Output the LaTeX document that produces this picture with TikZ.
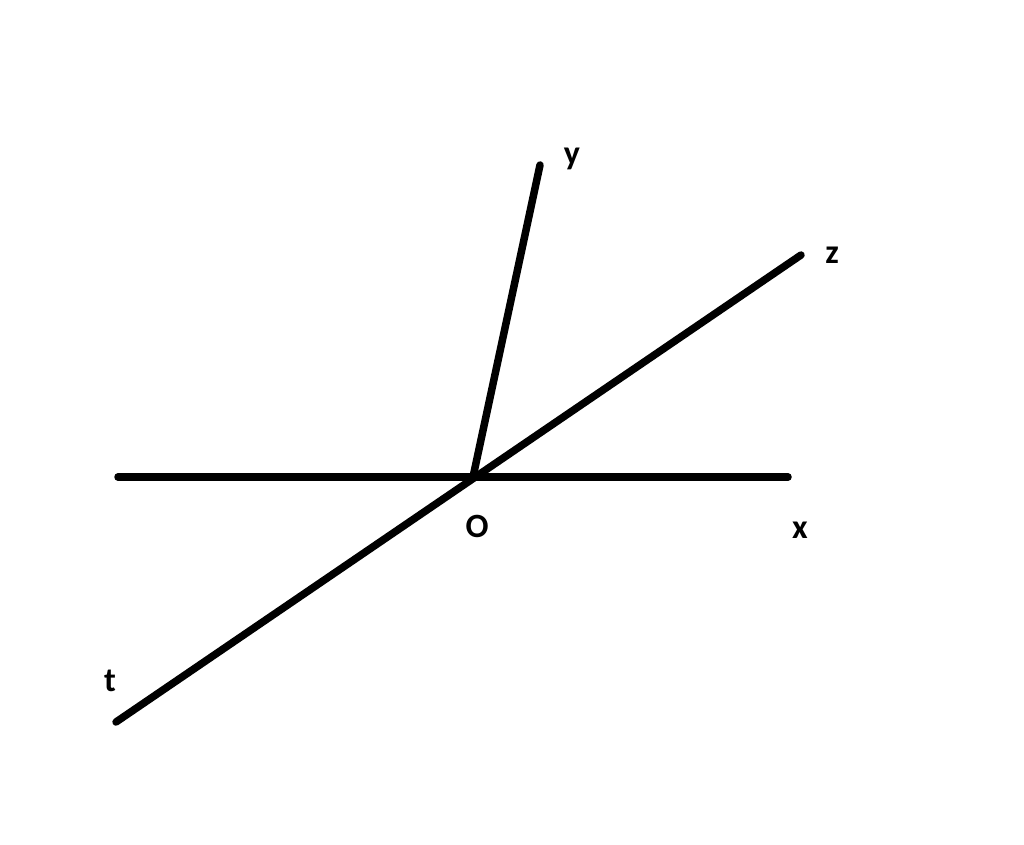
\documentclass[tikz,border=0pt]{standalone}
\usepackage{fontspec}
\setmainfont{Carlito}
\begin{document}
\begin{tikzpicture}[x=1pt,y=-1pt,
  ray/.style={line width=7.5pt,line cap=round},
  lab/.style={font=\bfseries\fontsize{34}{38}\selectfont,inner sep=0pt,anchor=base}]
\useasboundingbox (0,0) rectangle (1024,844);
\coordinate (O) at (473,477);
\coordinate (L) at (118,477);
\coordinate (X) at (788,477);
\coordinate (Y) at (540,165);
\coordinate (Z) at (801,255);
\coordinate (T) at (116,722);
\draw[ray] (L) -- (X);
\draw[ray] (O) -- (Y);
\draw[ray] (T) -- (Z);
\node[lab] (ly) at (572,164) {y};
\node[lab] (lz) at (832,263) {z};
\node[lab] (lo) at (477,537) {O};
\node[lab] (lx) at (800,538) {x};
\node[lab] (lt) at (110,691) {t};
\end{tikzpicture}
\end{document}
